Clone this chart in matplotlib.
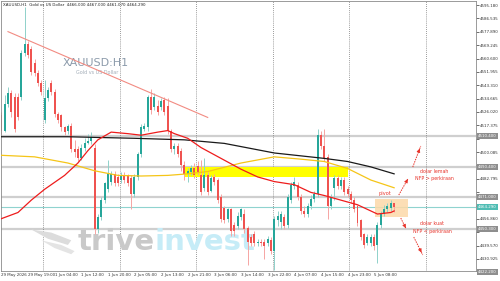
import numpy as np
import matplotlib
matplotlib.use('Agg')
import matplotlib.pyplot as plt
from matplotlib.patches import Rectangle, Polygon

# ============================================
# DATA (XAUUSD H1, 29 May 11:00 -> 5 Jun 14:00)
# ============================================
opens = [4524, 4514, 4531, 4538, 4536, 4536, 4536, 4564, 4570, 4567,
         4558, 4551, 4545, 4521, 4535, 4545, 4539, 4525, 4524, 4516,
         4514, 4517, 4502, 4502, 4496, 4503, 4506, 4507, 4503, 4450,
         4458, 4469, 4476, 4481, 4486, 4484, 4482, 4485, 4485, 4483,
         4473, 4484, 4499, 4515, 4516, 4536, 4529, 4530, 4529, 4534,
         4530, 4514, 4502, 4504, 4501, 4492, 4486, 4487, 4490, 4491,
         4485, 4477, 4485, 4475, 4484, 4482, 4471, 4464, 4457, 4463,
         4453, 4452, 4458, 4460, 4451, 4445, 4447, 4441, 4442, 4442,
         4441, 4443, 4436, 4456, 4455, 4458, 4453, 4469, 4478, 4479,
         4471, 4462, 4460, 4465, 4470, 4473, 4511, 4504, 4497, 4465,
         4477, 4483, 4478, 4482, 4476, 4473, 4469, 4465, 4456, 4447,
         4441, 4441, 4445, 4440, 4453, 4460, 4463, 4464, 4467]
highs = [4526, 4537, 4542, 4540, 4538, 4538, 4566, 4594, 4572, 4569,
         4560, 4553, 4547, 4547, 4542, 4547, 4541, 4526, 4525, 4517,
         4518, 4519, 4508, 4504, 4505, 4509, 4512, 4513, 4505, 4460,
         4471, 4481, 4495, 4488, 4488, 4486, 4487, 4487, 4486, 4485,
         4486, 4500, 4518, 4519, 4537, 4541, 4538, 4534, 4535, 4536,
         4535, 4515, 4506, 4506, 4503, 4494, 4490, 4492, 4493, 4494,
         4495, 4496, 4487, 4485, 4486, 4483, 4473, 4465, 4464, 4464,
         4455, 4461, 4464, 4463, 4452, 4447, 4449, 4444, 4444, 4444,
         4446, 4445, 4459, 4462, 4462, 4460, 4473, 4481, 4484, 4481,
         4473, 4465, 4467, 4472, 4475, 4515, 4514, 4515, 4499, 4473,
         4485, 4485, 4484, 4484, 4478, 4475, 4471, 4466, 4457, 4448,
         4447, 4447, 4447, 4455, 4462, 4466, 4467, 4469, 4467]
lows = [4512, 4513, 4529, 4523, 4513, 4521, 4534, 4562, 4561, 4550,
        4549, 4543, 4537, 4519, 4533, 4537, 4523, 4519, 4514, 4511,
        4512, 4500, 4497, 4494, 4495, 4501, 4505, 4505, 4447, 4448,
        4456, 4467, 4474, 4479, 4478, 4478, 4480, 4480, 4478, 4463,
        4471, 4482, 4497, 4514, 4514, 4525, 4527, 4524, 4527, 4524,
        4512, 4500, 4499, 4497, 4488, 4482, 4481, 4485, 4483, 4485,
        4472, 4475, 4472, 4474, 4479, 4467, 4455, 4454, 4455, 4446,
        4446, 4450, 4456, 4448, 4427, 4439, 4439, 4439, 4439, 4431,
        4439, 4434, 4424, 4452, 4450, 4450, 4451, 4467, 4476, 4469,
        4460, 4458, 4458, 4463, 4468, 4471, 4502, 4494, 4457, 4463,
        4469, 4476, 4476, 4472, 4471, 4467, 4461, 4452, 4443, 4438,
        4440, 4439, 4437, 4428, 4451, 4459, 4461, 4462, 4461]
closes = [4514, 4531, 4538, 4526, 4515, 4523, 4564, 4570, 4563, 4552,
          4551, 4545, 4539, 4535, 4540, 4539, 4525, 4521, 4516, 4513,
          4517, 4502, 4500, 4496, 4503, 4506, 4507, 4510, 4450, 4458,
          4469, 4480, 4486, 4486, 4480, 4480, 4485, 4482, 4480, 4473,
          4484, 4499, 4516, 4517, 4536, 4527, 4536, 4526, 4533, 4526,
          4514, 4502, 4504, 4499, 4492, 4486, 4488, 4490, 4485, 4487,
          4474, 4485, 4474, 4483, 4481, 4469, 4457, 4456, 4463, 4449,
          4449, 4459, 4463, 4450, 4442, 4441, 4441, 4442, 4441, 4439,
          4444, 4436, 4457, 4459, 4460, 4452, 4471, 4479, 4481, 4471,
          4462, 4460, 4465, 4470, 4473, 4511, 4504, 4496, 4465, 4471,
          4483, 4478, 4482, 4474, 4473, 4469, 4463, 4454, 4445, 4440,
          4445, 4445, 4439, 4453, 4460, 4463, 4465, 4467, 4464.29]

# moving averages read at a few bars
ma_red_idx = [0, 5, 9, 13, 19, 23, 26, 29, 33, 38, 42, 47, 50, 52, 56, 60, 66, 72, 77, 82, 88, 93, 97, 102, 107, 113, 117, 118]
ma_red_val = [4457, 4461, 4469, 4476, 4485, 4493, 4501, 4508, 4513, 4512, 4511, 4513, 4514, 4512, 4509, 4503,
              4496, 4489, 4484, 4481, 4479, 4474, 4472, 4469, 4466, 4460, 4461, 4462]
ma_yel_idx = [0, 10, 20, 28, 35, 42, 50, 56, 62, 72, 82, 90, 97, 104, 111, 118]
ma_yel_val = [4498, 4497, 4493, 4488, 4485, 4484.6, 4485, 4486, 4487.5, 4493, 4497, 4495.5, 4494, 4489.5, 4482, 4477]
ma_blk_idx = [0, 20, 40, 55, 67, 82, 97, 104, 111, 118]
ma_blk_val = [4510, 4510, 4509, 4508, 4505.7, 4499.5, 4496, 4494, 4490.5, 4486]

# levels
trend_x = [2, 62]
trend_y = [4578, 4522.5]
hlines = [4510.4, 4490.4, 4471.0, 4450.3]
bid = 4464.29
zone_x = [55, 104]
zone_y = [4484.0, 4490.2]
pivot_x = [112.2, 122.2]
pivot_y = [4458.3, 4469.5]

day_starts = [13, 36, 59, 82, 105, 128]
xtick_pos = [0, 8, 16, 24, 32, 40, 48, 56, 64, 72, 80, 88, 96, 104, 112]
xtick_lab = ['29 May 2026', '29 May 19:00', '1 Jun 04:00', '1 Jun 12:00', '1 Jun 20:00',
             '2 Jun 05:00', '2 Jun 13:00', '2 Jun 21:00', '3 Jun 06:00', '3 Jun 14:00',
             '3 Jun 22:00', '4 Jun 07:00', '4 Jun 15:00', '4 Jun 23:00', '5 Jun 08:00']
ytick_vals = [4430.925 + 8.645 * k for k in range(20)]
box_vals = [4510.4, 4490.4, 4471.0, 4450.3, 4422.2]

# ============================================
# PLOT
# ============================================
UP, DN = '#26a69a', '#ef5350'
UPW, DNW = '#8fd1ca', '#f6a5a3'

fig = plt.figure(figsize=(5, 2.81), dpi=100)
ax = fig.add_axes([0.002, 0.0356, 0.950, 0.9605])
ax.set_xlim(-0.1, 142.6)
ax.set_ylim(4423.15, 4597.76)

# background objects
for y in hlines:
    ax.axhline(y, color='#cfcfcf', lw=1.6, zorder=1)
ax.axhline(bid, color='#8fd3cf', lw=0.8, zorder=1)
for d in day_starts:
    ax.axvline(d - 0.5, color='#7a7a7a', lw=0.6, ls=(0, (1, 1.5)), zorder=1)
ax.add_patch(Rectangle((zone_x[0], zone_y[0]), zone_x[1] - zone_x[0], zone_y[1] - zone_y[0],
                       color='#ffff00', zorder=1.5, lw=0))
ax.add_patch(Rectangle((pivot_x[0], pivot_y[0]), pivot_x[1] - pivot_x[0], pivot_y[1] - pivot_y[0],
                       color='#fcd9a8', alpha=0.85, zorder=1.5, lw=0))

# watermark
ax.text(28.5, 4558, 'XAUUSD:H1', color='#8c9bab', fontsize=8, ha='center', va='center', zorder=1)
ax.text(28.8, 4551.5, 'Gold vs US Dollar', color='#a3adb8', fontsize=3.5, ha='center', va='center', zorder=1)
ax.text(23, 4437, 'trive', color='#c9c9c9', fontsize=21, fontweight='bold', ha='left', va='baseline', zorder=1)
ax.text(46, 4437, 'invest', color='#c6ecf7', fontsize=21, fontweight='bold', ha='left', va='baseline', zorder=1)
# wing mark of the logo
ax.add_patch(Polygon([(9, 4450), (15, 4448), (21, 4443), (20, 4440), (14, 4444)],
                     closed=True, fc='#dcdcdc', ec='none', zorder=1))
ax.add_patch(Polygon([(12, 4443), (18, 4440), (22, 4436), (21, 4434), (16, 4438)],
                     closed=True, fc='#e4e4e4', ec='none', zorder=1))

# moving averages and trendline
ax.plot(ma_blk_idx, ma_blk_val, color='#1a1a1a', lw=0.9, zorder=3)
ax.plot(ma_yel_idx, ma_yel_val, color='#f5c518', lw=0.9, zorder=3)
ax.plot(ma_red_idx, ma_red_val, color='#ee1c1c', lw=0.9, zorder=3)
ax.plot(trend_x, trend_y, color='#f28b82', lw=0.8, zorder=3)

# candles
for i in range(len(closes)):
    o, h, l, c = opens[i], highs[i], lows[i], closes[i]
    up = c >= o
    ax.vlines(i, l, h, color=UPW if up else DNW, lw=0.7, zorder=2)
    ax.add_patch(Rectangle((i - 0.3, min(o, c)), 0.6, max(abs(c - o), 0.4),
                           color=UP if up else DN, lw=0, zorder=2.2))

# annotations
RED = '#e8332a'
def dashed_arrow(x0, y0, x1, y1):
    ax.plot([x0, x1], [y0, y1], color=RED, lw=0.7, ls=(0, (1.5, 1)), zorder=4)
    ax.annotate('', xy=(x1, y1), xytext=(x0 + (x1 - x0) * 0.7, y0 + (y1 - y0) * 0.7),
                arrowprops=dict(arrowstyle='-|>', color=RED, lw=0.6, mutation_scale=5), zorder=4)

dashed_arrow(119.4, 4472.3, 122.1, 4482.6)
dashed_arrow(123.6, 4490.4, 126.0, 4504.0)
dashed_arrow(120.0, 4457.4, 121.5, 4450.9)
dashed_arrow(123.9, 4445.1, 126.6, 4433.5)
ax.text(115.3, 4473.0, 'pivot', color=RED, fontsize=3.6, ha='center', va='center', zorder=4)
ax.text(130, 4487.2, 'dolar lemah', color=RED, fontsize=3.4, ha='center', va='center', zorder=4)
ax.text(130, 4483.2, 'NFP > perkiraan', color=RED, fontsize=3.4, ha='center', va='center', zorder=4)
ax.text(129.5, 4454.2, 'dolar kuat', color=RED, fontsize=3.4, ha='center', va='center', zorder=4)
ax.text(129.5, 4449.0, 'NFP < perkiraan', color=RED, fontsize=3.4, ha='center', va='center', zorder=4)

# header
ax.text(0.004, 0.992, 'XAUUSD,H1  Gold vs US Dollar  4466.000 4467.000 4461.070 4464.290',
        transform=ax.transAxes, fontsize=2.9, color='#222222', ha='left', va='top')

# axes styling
for s in ax.spines.values():
    s.set_color('#8a8a8a')
    s.set_linewidth(0.6)
ax.yaxis.tick_right()
ax.set_yticks(ytick_vals)
# labels hidden under the price boxes are left blank
covered = box_vals + [bid]
ax.set_yticklabels(['' if min(abs(v - b) for b in covered) < 4 else f'{v:.3f}' for v in ytick_vals])
ax.set_xticks(xtick_pos)
ax.set_xticklabels(xtick_lab)
for lab in ax.get_xticklabels():
    lab.set_horizontalalignment('left')
ax.tick_params(axis='y', length=2, width=0.5, labelsize=2.9, pad=1, colors='#333333')
ax.tick_params(axis='x', length=0, labelsize=2.9, pad=1.5, colors='#333333')

ytr = ax.get_yaxis_transform()
for v in box_vals:
    ax.text(1.004, v, f'{v:.3f}', transform=ytr, fontsize=2.9, color='white', ha='left', va='center',
            clip_on=False, zorder=6, bbox=dict(boxstyle='square,pad=0.25', fc='#8e8e8e', ec='none'))
ax.text(1.004, bid, f'{bid:.3f}', transform=ytr, fontsize=2.9, color='white', ha='left', va='center',
        clip_on=False, zorder=6, bbox=dict(boxstyle='square,pad=0.25', fc='#4fbdb4', ec='none'))

plt.savefig('out.png', dpi=100)
